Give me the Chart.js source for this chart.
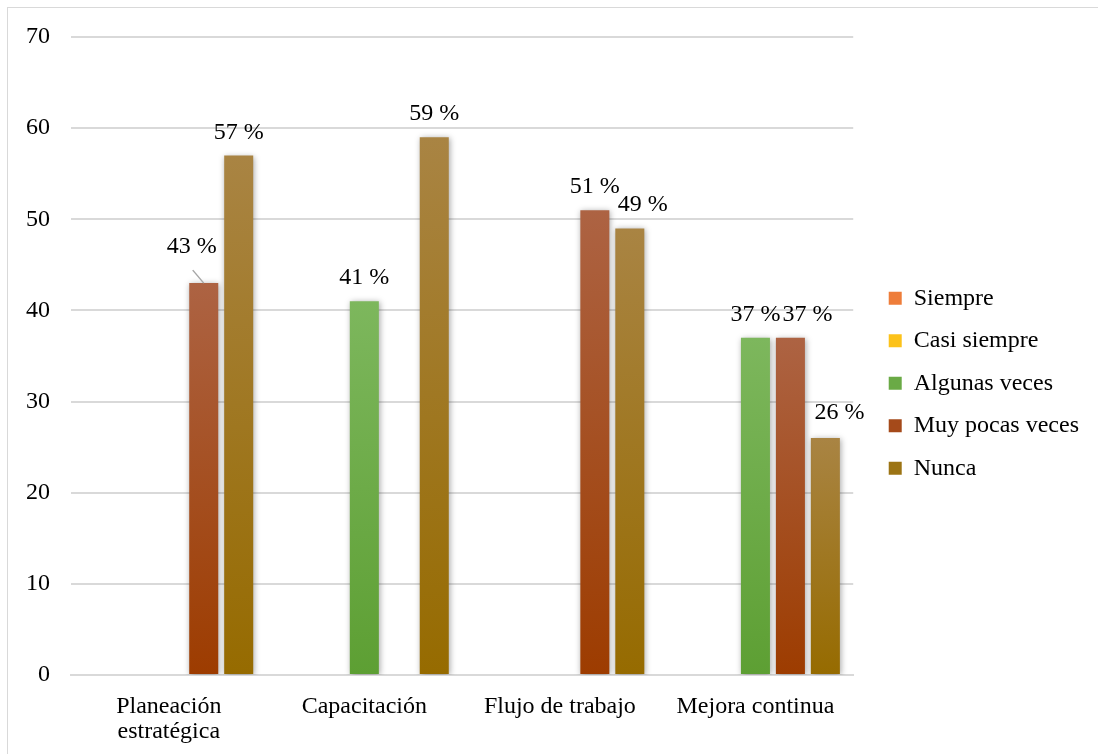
<!DOCTYPE html>
<html><head><meta charset="utf-8">
<script src="https://cdn.jsdelivr.net/npm/chart.js@4.4.0/dist/chart.umd.min.js"></script>
<style>html,body{margin:0;padding:0;background:#fff;overflow:hidden}</style>
</head><body><canvas id="c" width="1098" height="754"></canvas>
<script>
// ---- data ----
const categories = [["Planeación", "estratégica"], "Capacitación", "Flujo de trabajo", "Mejora continua"];
const seriesNames = ["Siempre", "Casi siempre", "Algunas veces", "Muy pocas veces", "Nunca"];
const siempre = [0, 0, 0, 0];
const casiSiempre = [0, 0, 0, 0];
const algunasVeces = [0, 41, 0, 37];
const muyPocasVeces = [43, 0, 51, 37];
const nunca = [57, 59, 49, 26];
const yTicks = [0, 10, 20, 30, 40, 50, 60, 70];

// ---- styles ----
const topColors = ["#f4a06a", "#ffd24d", "#7db75d", "#ad6343", "#a98443"];
const bottomColors = ["#e8701f", "#f5b800", "#5d9f33", "#9d3c00", "#966b00"];
const legendColors = ["#ee7d3a", "#fcc21a", "#6aaa46", "#a54a1a", "#9c7414"];
const FONT = "'Liberation Serif', 'Times New Roman', serif";
const labelShift = { "3-0": [-12, -13, true], "3-3": [17, 0], "4-2": [13, 0], "4-3": [14, -2] };
const LEGEND_DX = 17, LEGEND_DY = -17, LEGEND_EXTRA = 24;

function grad(i) {
  return (ctx) => {
    const chart = ctx.chart;
    if (!chart.chartArea || ctx.type !== 'data' || !ctx.parsed) return bottomColors[i];
    const ys = chart.scales.y;
    const y0 = ys.getPixelForValue(ctx.parsed.y), y1 = ys.getPixelForValue(0);
    if (!isFinite(y0) || !isFinite(y1) || y1 - y0 < 1) return bottomColors[i];
    const g = chart.ctx.createLinearGradient(0, y0, 0, y1);
    g.addColorStop(0, topColors[i]);
    g.addColorStop(1, bottomColors[i]);
    return g;
  };
}

const seriesValues = [siempre, casiSiempre, algunasVeces, muyPocasVeces, nunca];
const datasets = seriesNames.map((name, i) => ({
  label: name,
  data: seriesValues[i],
  backgroundColor: grad(i),
  borderWidth: 0,
  categoryPercentage: 0.894,
  barPercentage: 0.83
}));

const borderPlugin = {
  id: 'frame',
  beforeDraw(chart) {
    const c = chart.ctx;
    c.save();
    c.strokeStyle = '#d9d9d9';
    c.lineWidth = 1;
    c.strokeRect(7.5, 7.5, 2000, 2000);
    c.restore();
  }
};

const shadowPlugin = {
  id: 'barShadow',
  beforeDatasetDraw(chart) {
    const c = chart.ctx;
    c.save();
    c.shadowColor = 'rgba(0,0,0,0.35)';
    c.shadowBlur = 6;
    c.shadowOffsetX = 1;
    c.shadowOffsetY = 1;
  },
  afterDatasetDraw(chart) { chart.ctx.restore(); }
};

const labelsPlugin = {
  id: 'valueLabels',
  afterDatasetsDraw(chart) {
    const c = chart.ctx;
    c.save();
    c.font = "24px " + FONT;
    c.fillStyle = '#000';
    c.textAlign = 'center';
    c.textBaseline = 'alphabetic';
    chart.data.datasets.forEach((ds, di) => {
      const meta = chart.getDatasetMeta(di);
      meta.data.forEach((el, idx) => {
        const v = ds.data[idx];
        if (!v) return;
        const sh = labelShift[di + "-" + idx] || [0, 0];
        const x = el.x + sh[0];
        const y = el.y - 17 + sh[1];
        c.fillText(v + " %", x, y);
        if (sh[2]) {
          c.strokeStyle = '#a6a6a6';
          c.lineWidth = 1.5;
          c.beginPath();
          c.moveTo(x + 1, y + 17);
          c.lineTo(el.x, el.y);
          c.stroke();
        }
      });
    });
    c.restore();
  }
};

const legendTweak = {
  id: 'legendTweak',
  afterInit(chart) {
    const lg = chart.legend;
    if (!lg) return;
    const of = lg.fit.bind(lg);
    lg.fit = function () { of(); this.width += LEGEND_EXTRA; };
    const od = lg.draw.bind(lg);
    lg.draw = function () {
      const c = this.ctx;
      c.save();
      c.translate(LEGEND_DX, LEGEND_DY);
      od();
      c.restore();
    };
  }
};

Chart.defaults.font.family = FONT;
Chart.defaults.color = '#000';

new Chart(document.getElementById('c'), {
  type: 'bar',
  data: { labels: categories, datasets },
  options: {
    responsive: false,
    animation: false,
    devicePixelRatio: 1,
    layout: { padding: { left: 5, top: 37, right: 2, bottom: -9.5 } },
    plugins: {
      tooltip: { enabled: false },
      legend: {
        position: 'right',
        align: 'center',
        labels: {
          boxWidth: 13,
          boxHeight: 13,
          padding: 18.5,
          font: { size: 24, family: FONT },
          color: '#000',
          generateLabels(chart) {
            return chart.data.datasets.map((ds, i) => ({
              text: ds.label,
              fillStyle: legendColors[i],
              strokeStyle: legendColors[i],
              lineWidth: 0,
              hidden: false,
              datasetIndex: i
            }));
          }
        }
      }
    },
    scales: {
      x: {
        grid: { display: false, drawTicks: false },
        border: { display: true, color: '#d9d9d9', width: 2 },
        ticks: { font: { size: 24, family: FONT, lineHeight: 1.05 }, padding: 19, color: '#000', maxRotation: 0 }
      },
      y: {
        min: 0,
        max: 70,
        afterBuildTicks(scale) { scale.ticks = yTicks.map(v => ({ value: v })); },
        grid: { color: '#d9d9d9', lineWidth: 2, drawTicks: false },
        border: { display: false },
        ticks: { font: { size: 24, family: FONT }, padding: 21, color: '#000' }
      }
    }
  },
  plugins: [borderPlugin, shadowPlugin, labelsPlugin, legendTweak]
});
</script>
</body></html>
